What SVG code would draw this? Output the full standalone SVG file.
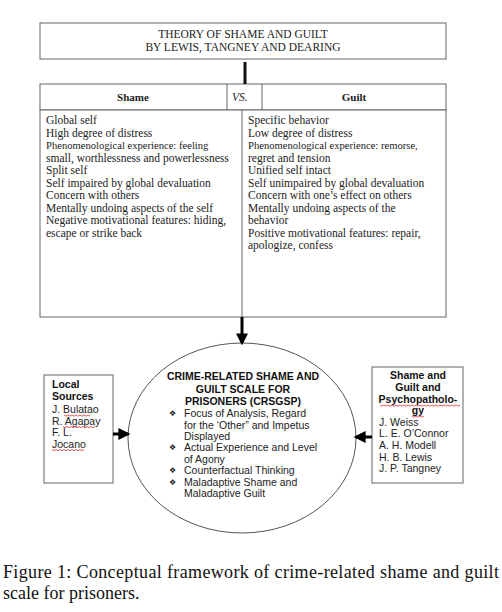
<svg xmlns="http://www.w3.org/2000/svg" width="502" height="612" viewBox="0 0 502 612">
<style>
.box{fill:#fff;stroke:#666;stroke-width:1}
.tm{font-family:"Liberation Serif","Times New Roman",serif;font-size:11.5px;fill:#222}
.tb{font-family:"Liberation Serif","Times New Roman",serif;font-size:11px;font-weight:bold;fill:#222}
.ar{font-family:"Liberation Sans",Arial,sans-serif;font-size:10.5px;fill:#222}
.arb{font-family:"Liberation Sans",Arial,sans-serif;font-size:10.5px;font-weight:bold;fill:#111}
.bul{font-family:"DejaVu Sans",sans-serif;font-size:8px;fill:#222}
.cap{font-family:"Liberation Serif","Times New Roman",serif;font-size:18px;fill:#111}
.sq{fill:none;stroke:#e03030;stroke-width:0.8}
</style>
<defs>
<marker id="ah" markerWidth="4" markerHeight="4" refX="3.2" refY="2" orient="auto" markerUnits="strokeWidth">
<path d="M0,0 L4,2 L0,4 Z" fill="#000"/>
</marker>
</defs>
<rect width="502" height="612" fill="#fff"/>

<g id="theory">
<rect class="box" x="40" y="23" width="406" height="36"/>
<text class="tm" x="243" y="38" text-anchor="middle" font-size="11">THEORY OF SHAME AND GUILT</text>
<text class="tm" x="243" y="51" text-anchor="middle" font-size="11">BY LEWIS, TANGNEY AND DEARING</text>
</g>

<g id="comparison">
<rect class="box" x="40" y="84" width="406" height="26"/>
<line class="box" x1="227" y1="84" x2="227" y2="110"/>
<line class="box" x1="262" y1="84" x2="262" y2="110"/>
<text class="tb" x="133" y="101" text-anchor="middle">Shame</text>
<text class="tm" x="232" y="101" font-style="italic" font-size="11">VS.</text>
<text class="tb" x="354" y="101" text-anchor="middle">Guilt</text>
<rect class="box" x="40" y="110" width="406" height="207"/>
<line class="box" x1="242" y1="110" x2="242" y2="317"/>
<g class="tm">
<text x="46" y="124">Global self</text>
<text x="46" y="136.5">High degree of distress</text>
<text x="46" y="149" font-size="10.6">Phenomenological experience: feeling</text>
<text x="46" y="161.5">small, worthlessness and powerlessness</text>
<text x="46" y="174">Split self</text>
<text x="46" y="186.5">Self impaired by global devaluation</text>
<text x="46" y="199">Concern with others</text>
<text x="46" y="211.5">Mentally undoing aspects of the self</text>
<text x="46" y="224">Negative motivational features: hiding,</text>
<text x="46" y="236.5">escape or strike back</text>
<text x="248" y="124">Specific behavior</text>
<text x="248" y="136.5">Low degree of distress</text>
<text x="248" y="149" font-size="10.6">Phenomenological experience: remorse,</text>
<text x="248" y="161.5">regret and tension</text>
<text x="248" y="174">Unified self intact</text>
<text x="248" y="186.5">Self unimpaired by global devaluation</text>
<text x="248" y="199">Concern with one’s effect on others</text>
<text x="248" y="211.5">Mentally undoing aspects of the</text>
<text x="248" y="224">behavior</text>
<text x="248" y="236.5">Positive motivational features: repair,</text>
<text x="248" y="249">apologize, confess</text>
</g>
</g>

<g id="crsgsp">
<ellipse cx="242" cy="438" rx="114" ry="95" fill="#fff" stroke="#555" stroke-width="1"/>
<text class="arb" x="243" y="380" text-anchor="middle">CRIME-RELATED SHAME AND</text>
<text class="arb" x="243" y="393" text-anchor="middle">GUILT SCALE FOR</text>
<text class="arb" x="243" y="405" text-anchor="middle">PRISONERS (CRSGSP)</text>
<g class="bul">
<text x="169" y="416">&#x2756;&#xFE0E;</text>
<text x="169" y="450">&#x2756;&#xFE0E;</text>
<text x="169" y="473">&#x2756;&#xFE0E;</text>
<text x="169" y="484.5">&#x2756;&#xFE0E;</text>
</g>
<g class="ar">
<text x="184" y="417">Focus of Analysis, Regard</text>
<text x="184" y="428.5">for the ‘Other” and Impetus</text>
<text x="184" y="440">Displayed</text>
<text x="184" y="451">Actual Experience and Level</text>
<text x="184" y="462.5">of Agony</text>
<text x="184" y="474">Counterfactual Thinking</text>
<text x="184" y="485.5">Maladaptive Shame and</text>
<text x="184" y="497">Maladaptive Guilt</text>
</g>
</g>

<g id="local">
<rect class="box" x="44" y="375" width="69" height="108"/>
<text class="arb" x="52" y="388">Local</text>
<text class="arb" x="52" y="400">Sources</text>
<g class="ar">
<text x="52" y="413">J. Bulatao</text>
<text x="52" y="424.5">R. Agapay</text>
<text x="52" y="436">F. L.</text>
<text x="52" y="447.5">Jocano</text>
</g>
<path class="sq" d="M64,415 l2,1.2 l2,-1.2 l2,1.2 l2,-1.2 l2,1.2 l2,-1.2 l2,1.2 l2,-1.2 l2,1.2 l2,-1.2 l2,1.2 l2,-1.2 l2,1.2"/>
<path class="sq" d="M63,426.5 l2,1.2 l2,-1.2 l2,1.2 l2,-1.2 l2,1.2 l2,-1.2 l2,1.2 l2,-1.2 l2,1.2 l2,-1.2 l2,1.2 l2,-1.2 l2,1.2 l2,-1.2 l2,1.2 l2,-1.2"/>
<path class="sq" d="M52,449.5 l2,1.2 l2,-1.2 l2,1.2 l2,-1.2 l2,1.2 l2,-1.2 l2,1.2 l2,-1.2 l2,1.2 l2,-1.2 l2,1.2 l2,-1.2 l2,1.2 l2,-1.2 l2,1.2 l2,-1.2"/>
</g>

<g id="psycho">
<rect class="box" x="372" y="367" width="91" height="116"/>
<text class="arb" x="418" y="379" text-anchor="middle">Shame and</text>
<text class="arb" x="418" y="391" text-anchor="middle">Guilt and</text>
<text class="arb" x="418" y="403" text-anchor="middle">Psychopatholo-</text>
<text class="arb" x="418" y="414" text-anchor="middle">gy</text>
<g class="ar">
<text x="379" y="425.5">J. Weiss</text>
<text x="379" y="437">L. E. O’Connor</text>
<text x="379" y="449">A. H. Modell</text>
<text x="379" y="460.5">H. B. Lewis</text>
<text x="379" y="472">J. P. Tangney</text>
</g>
<path class="sq" d="M380,405 l2,1.2 l2,-1.2 l2,1.2 l2,-1.2 l2,1.2 l2,-1.2 l2,1.2 l2,-1.2 l2,1.2 l2,-1.2 l2,1.2 l2,-1.2 l2,1.2 l2,-1.2 l2,1.2 l2,-1.2 l2,1.2 l2,-1.2 l2,1.2 l2,-1.2 l2,1.2 l2,-1.2 l2,1.2 l2,-1.2 l2,1.2 l2,-1.2 l2,1.2 l2,-1.2 l2,1.2 l2,-1.2 l2,1.2 l2,-1.2 l2,1.2 l2,-1.2 l2,1.2 l2,-1.2 l2,1.2 l2,-1.2 l2,1.2 l2,-1.2"/>
<path class="sq" d="M412,416 l2,1.2 l2,-1.2 l2,1.2 l2,-1.2 l2,1.2 l2,-1.2"/>
</g>

<g id="connectors">
<line x1="245" y1="62" x2="245" y2="84" stroke="#111" stroke-width="3"/>
<line x1="242" y1="317" x2="242" y2="343" stroke="#000" stroke-width="3" marker-end="url(#ah)"/>
<line x1="113" y1="434" x2="128" y2="434" stroke="#000" stroke-width="3" marker-end="url(#ah)"/>
<line x1="372" y1="437" x2="356" y2="437" stroke="#000" stroke-width="3" marker-end="url(#ah)"/>
</g>

<g id="caption">
<text class="cap" x="3" y="578" textLength="496" lengthAdjust="spacing">Figure 1: Conceptual framework of crime-related shame and guilt</text>
<text class="cap" x="3" y="599">scale for prisoners.</text>
</g>
</svg>
